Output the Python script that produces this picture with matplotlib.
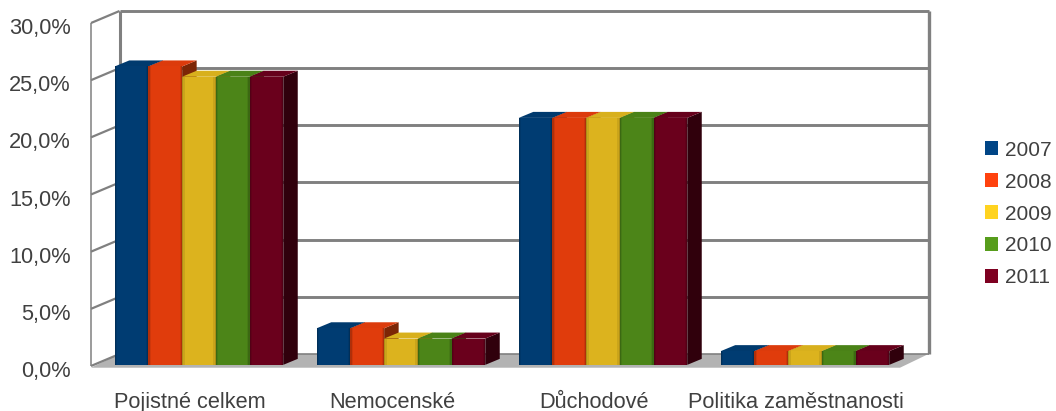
import matplotlib
matplotlib.use("Agg")
import matplotlib.pyplot as plt
from matplotlib.patches import Patch, Polygon
from matplotlib.transforms import ScaledTranslation

plt.rcParams["font.family"] = ["Liberation Sans", "DejaVu Sans"]

categories = ["Pojistné celkem", "Nemocenské", "Důchodové", "Politika zaměstnanosti"]
years = ["2007", "2008", "2009", "2010", "2011"]
values_2007 = [26.2, 3.3, 21.7, 1.3]
values_2008 = [26.2, 3.3, 21.7, 1.3]
values_2009 = [25.3, 2.4, 21.7, 1.3]
values_2010 = [25.3, 2.4, 21.7, 1.3]
values_2011 = [25.3, 2.4, 21.7, 1.3]
series = [values_2007, values_2008, values_2009, values_2010, values_2011]
y_ticks = [0, 5, 10, 15, 20, 25, 30]
y_labels = ["0,0%", "5,0%", "10,0%", "15,0%", "20,0%", "25,0%", "30,0%"]

legend_colors = ["#004586", "#ff420e", "#ffd320", "#579d1c", "#7e0021"]
front_colors = ["#003c72", "#e03c0c", "#dcb31e", "#4c8518", "#6a001c"]
top_colors = ["#003a6e", "#dc3b0c", "#d8b01d", "#4a8217", "#66001b"]
side_colors = ["#00284e", "#7c2606", "#8c7212", "#2e5210", "#30000c"]
GRID = "#808080"
TEXT = "#404040"

W, H = 1056, 411
fig = plt.figure(figsize=(W / 100, H / 100), dpi=100)
# Axes span the front plane of the 3D box, in pixels from the top-left corner.
L, R, T, B = 91, 900, 23, 366
ax = fig.add_axes([L / W, 1 - B / H, (R - L) / W, (B - T) / H])
spacing = 202.0
first_center = 199.0
x_lo = -(first_center - L) / spacing
x_hi = (R - first_center) / spacing
ax.set_xlim(x_lo, x_hi)
ax.set_ylim(0, 30)
XPX = (x_hi - x_lo) / (R - L)
YPX = 30 / (B - T)
DX, DY = 28.5 * XPX, 12 * YPX        # box depth
BX, BY = 14.5 * XPX, 6 * YPX         # bar depth
bar_w = 33.7 * XPX

for s in ax.spines.values():
    s.set_visible(False)
ax.patch.set_visible(False)


def poly(pts, color, z):
    ax.add_patch(Polygon(pts, closed=True, fc=color, ec="none", zorder=z, clip_on=False))


def line(xs, ys, lw, z=2, color=GRID):
    ax.plot(xs, ys, color=color, lw=lw, zorder=z, clip_on=False, solid_capstyle="butt")


# Floor, walls and gridlines
poly([(x_lo, -0.15), (x_lo + DX, DY), (x_hi + DX, DY), (x_hi, -0.15)], "#b3b3b3", 1)
for t in y_ticks:
    line([x_lo + DX, x_hi + DX], [t + DY, t + DY], 2.1 if t else 1.2)
    line([x_lo, x_lo + DX], [t, t + DY], 1.6)
line([x_lo, x_lo], [0, 30], 1.1)
line([x_lo + DX, x_lo + DX], [DY, 30 + DY], 2.2)
line([x_hi + DX, x_hi + DX], [DY, 30 + DY], 2.4)

# Bars drawn left to right so each front face covers its neighbour's side
z = 3
for c in range(len(categories)):
    for i, vals in enumerate(series):
        x0 = c + (i - 2.5) * bar_w
        x1 = x0 + bar_w
        v = vals[c]
        y0 = 0.1
        poly([(x1, y0), (x1 + BX, y0 + BY), (x1 + BX, v + BY), (x1, v)], side_colors[i], z)
        poly([(x0, v), (x0 + BX, v + BY), (x1 + BX, v + BY), (x1, v)], top_colors[i], z)
        ax.bar(x0, v - y0, bar_w, bottom=y0, align="edge", color=front_colors[i], zorder=z + 0.1)
        # Soft darker rim along the vertical edges of the front face
        for e, a in ((1.2 * XPX, 0.14), (2.6 * XPX, 0.08)):
            for xs in (x0, x1 - e):
                ax.bar(xs, v - y0, e, bottom=y0, align="edge", color="black", alpha=a,
                       lw=0, zorder=z + 0.2)
        z += 1

ax.set_yticks(y_ticks, y_labels)
ax.set_xticks(range(len(categories)), categories)
ax.tick_params(axis="both", length=0, labelsize=15.7, labelcolor=TEXT)
ax.tick_params(axis="y", pad=14.5)
ax.tick_params(axis="x", pad=18.8)
shift_y = ScaledTranslation(0, -2.2 / 72, fig.dpi_scale_trans)
for lab in ax.get_yticklabels():
    lab.set_transform(lab.get_transform() + shift_y)
shift_x = ScaledTranslation(-9 / 100, 0, fig.dpi_scale_trans)
for lab in ax.get_xticklabels():
    lab.set_transform(lab.get_transform() + shift_x)

handles = [Patch(fc=col, ec="none", label=y) for col, y in zip(legend_colors, years)]
fig.legend(handles=handles, loc="center left", bbox_to_anchor=(985 / W, 1 - 214 / H),
           frameon=False, fontsize=15, labelcolor=TEXT, handlelength=0.64, handleheight=0.64,
           handletextpad=0.34, labelspacing=0.62, borderpad=0, borderaxespad=0)

fig.savefig("out.png", dpi=100, facecolor="white")
